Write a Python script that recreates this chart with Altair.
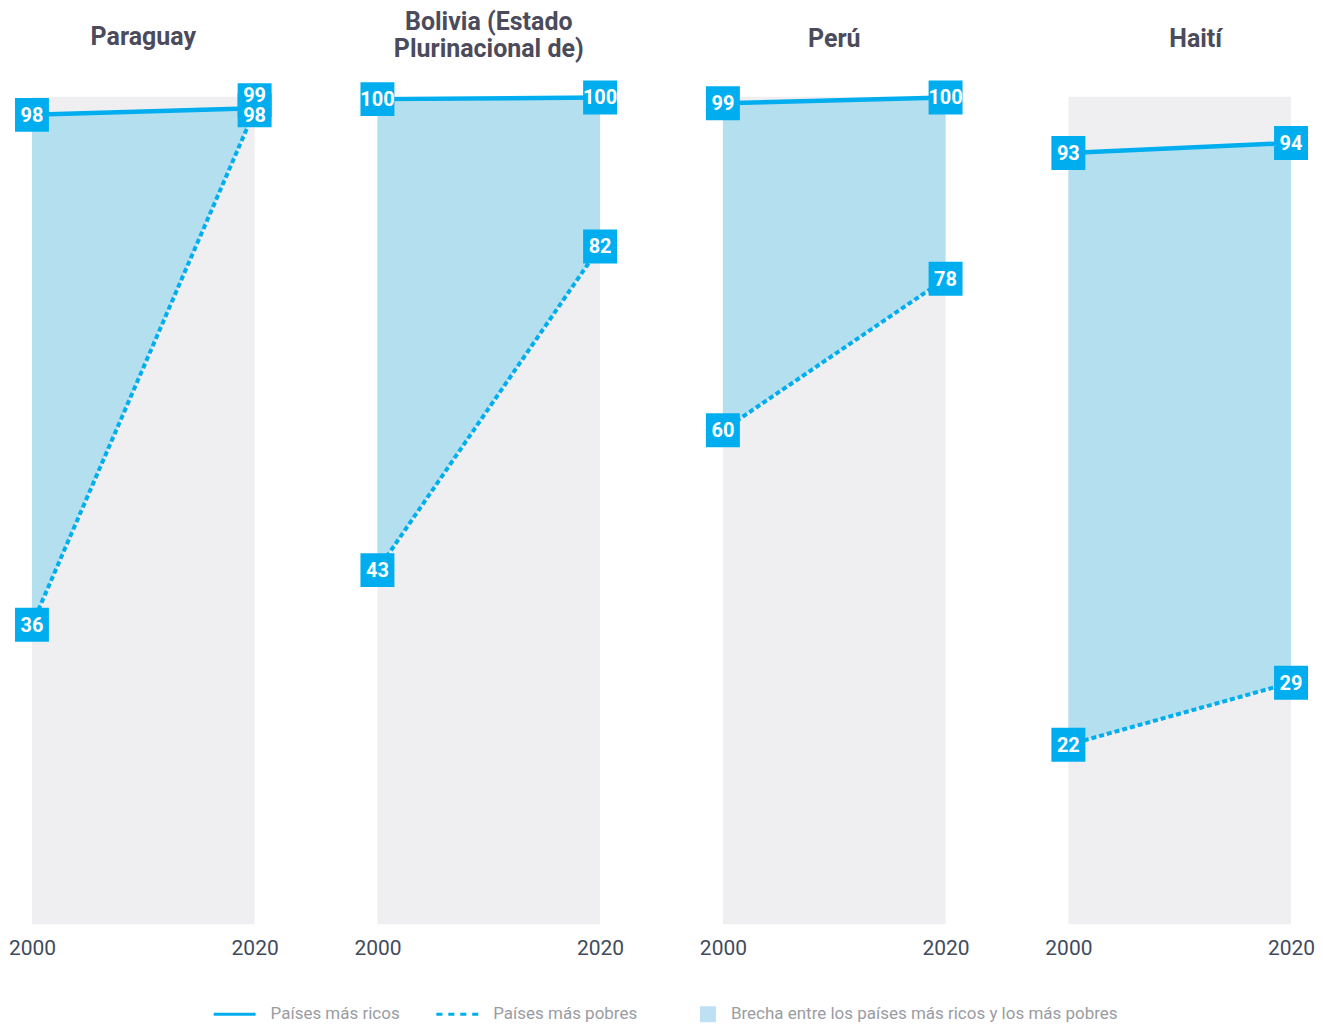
import altair as alt
import pandas as pd

# ---------------- data ----------------
paises = ["Paraguay", "Bolivia (Estado Plurinacional de)", "Perú", "Haití"]
titulos = [["Paraguay"], ["Bolivia (Estado", "Plurinacional de)"], ["Perú"], ["Haití"]]
anios = [2000, 2020]
ricos_2000 = [97.8, 99.7, 99.2, 93.2]
ricos_2020 = [98.6, 99.9, 99.9, 94.4]
pobres_2000 = [36.2, 42.8, 59.7, 21.7]
pobres_2020 = [98.3, 81.9, 78.0, 29.2]
y_dominio = [0, 100]
legend_labels = ["Países más ricos", "Países más pobres",
                 "Brecha entre los países más ricos y los más pobres"]

# ---------------- style ----------------
AZUL = "#00aeef"
AREA = "#b4dfee"
GRIS = "#efeff2"
TITLE_COLOR = "#4b4b5c"
AXIS_COLOR = "#3f4b5b"
LEG_COLOR = "#9a9ca3"
FONT = "Roboto"
TITLE_OFFSETS = {"Paraguay": 33, "Bolivia (Estado Plurinacional de)": 19, "Perú": 29, "Haití": 45}

wide_rows, long_rows = [], []
for i, p in enumerate(paises):
    r = [ricos_2000[i], ricos_2020[i]]
    q = [pobres_2000[i], pobres_2020[i]]
    for j, a in enumerate(anios):
        wide_rows.append({"pais": p, "anio": a, "ricos": r[j], "pobres": q[j]})
        long_rows.append({"pais": p, "anio": a, "grupo": "ricos", "valor": r[j]})
        long_rows.append({"pais": p, "anio": a, "grupo": "pobres", "valor": q[j]})
wide = pd.DataFrame(wide_rows)
long = pd.DataFrame(long_rows)
leg_df = pd.DataFrame({"serie": legend_labels})
bg_df = pd.DataFrame({"x": [anios[0]], "x2": [anios[-1]], "y": [y_dominio[0]], "y2": [y_dominio[1]]})

x_scale = alt.Scale(domain=[anios[0], anios[-1]], nice=False, zero=False)
y_scale = alt.Scale(domain=y_dominio, nice=False, zero=False)
x_axis = alt.Axis(values=anios, format="d", grid=False, domain=False, ticks=False,
                  tickSize=0, labelFontSize=21, labelColor=AXIS_COLOR, labelFont=FONT,
                  labelPadding=13, labelFlush=False, title=None)

BOX = 34 * 34


def panel(i, with_legend=False):
    p = paises[i]
    w = wide[wide.pais == p]
    lg = long[long.pais == p]
    X = alt.X("anio:Q", scale=x_scale, axis=x_axis)

    bg = alt.Chart(bg_df).mark_rect(color=GRIS, opacity=1).encode(
        x=alt.X("x:Q", scale=x_scale, axis=x_axis), x2="x2:Q",
        y=alt.Y("y:Q", scale=y_scale, axis=None), y2="y2:Q")

    area = alt.Chart(w).mark_area(color=AREA, opacity=1).encode(
        x=X, y=alt.Y("ricos:Q", scale=y_scale, axis=None), y2="pobres:Q")

    base = alt.Chart(lg).encode(x=X)
    poor = base.transform_filter("datum.grupo == 'pobres'").mark_line(
        color=AZUL, strokeWidth=4, strokeDash=[5, 3]).encode(
        y=alt.Y("valor:Q", scale=y_scale, axis=None))
    rich = base.transform_filter("datum.grupo == 'ricos'").mark_line(
        color=AZUL, strokeWidth=4.5).encode(
        y=alt.Y("valor:Q", scale=y_scale, axis=None))

    lab = base.transform_joinaggregate(
        vmin="min(valor)", vmax="max(valor)", groupby=["anio"]
    ).transform_calculate(close="datum.vmax - datum.vmin < 3")

    tkw = dict(color="white", fontWeight="bold", fontSize=20, font=FONT,
               baseline="middle", align="center")
    normal = lab.transform_filter("!datum.close")
    box_n = normal.mark_square(size=BOX, color=AZUL, opacity=1).encode(
        y=alt.Y("valor:Q", scale=y_scale, axis=None))
    txt_n = normal.mark_text(dy=1, **tkw).encode(
        y=alt.Y("valor:Q", scale=y_scale, axis=None),
        text=alt.Text("valor:Q", format=".0f"))

    cr = lab.transform_filter("datum.close && datum.grupo == 'ricos'")
    cp = lab.transform_filter("datum.close && datum.grupo == 'pobres'")
    box_cr = cr.mark_square(size=BOX, color=AZUL, opacity=1, yOffset=-8).encode(
        y=alt.Y("vmax:Q", scale=y_scale, axis=None))
    box_cp = cp.mark_square(size=BOX, color=AZUL, opacity=1, yOffset=2).encode(
        y=alt.Y("vmax:Q", scale=y_scale, axis=None))
    txt_cr = cr.mark_text(dy=-12, **tkw).encode(
        y=alt.Y("vmax:Q", scale=y_scale, axis=None),
        text=alt.Text("valor:Q", format=".0f"))
    txt_cp = cp.mark_text(dy=8, **tkw).encode(
        y=alt.Y("vmax:Q", scale=y_scale, axis=None),
        text=alt.Text("valor:Q", format=".0f"))

    layers = [bg, area, poor, rich, box_n, box_cr, box_cp, txt_n, txt_cr, txt_cp]

    if with_legend:
        paths = [
            "M-1,-0.07H1V0.07H-1Z",
            "M-1,-0.07H-0.71V0.07H-1Z M-0.43,-0.07H-0.14V0.07H-0.43Z "
            "M0.14,-0.07H0.43V0.07H0.14Z M0.71,-0.07H1V0.07H0.71Z",
            "M0.24,-0.38H1V0.38H0.24Z",
        ]
        leg = alt.Legend(orient="none", legendX=182, legendY=898, direction="horizontal",
                         title=None, labelFont=FONT, labelFontSize=17, labelColor=LEG_COLOR,
                         symbolSize=42 * 42, symbolStrokeWidth=0, columnPadding=36,
                         labelOffset=15, padding=0, labelLimit=600)
        legend_layer = alt.Chart(leg_df).transform_filter("false").mark_point(
            filled=True, opacity=1).encode(
            shape=alt.Shape("serie:N", scale=alt.Scale(domain=legend_labels, range=paths),
                            legend=leg),
            color=alt.Color("serie:N", scale=alt.Scale(domain=legend_labels,
                                                       range=[AZUL, AZUL, "#bde0f3"]),
                            legend=leg),
        )
        layers.append(legend_layer)

    dx = 16 if p == "Haití" else 0
    return alt.layer(*layers).properties(
        width=223, height=829,
        title=alt.TitleParams(text=titulos[i], fontSize=25, fontWeight="bold", font=FONT,
                              color=TITLE_COLOR, anchor="middle", offset=TITLE_OFFSETS[p],
                              lineHeight=27, dx=dx),
    )


chart = alt.hconcat(
    *[panel(i, with_legend=(i == 0)) for i in range(len(paises))],
    spacing=123, bounds="flush",
).properties(
    padding={"left": 0, "top": 0, "right": 0, "bottom": 0},
).configure_view(strokeWidth=0)

chart.save("out.html", embed_options={"renderer": "svg", "actions": False})
